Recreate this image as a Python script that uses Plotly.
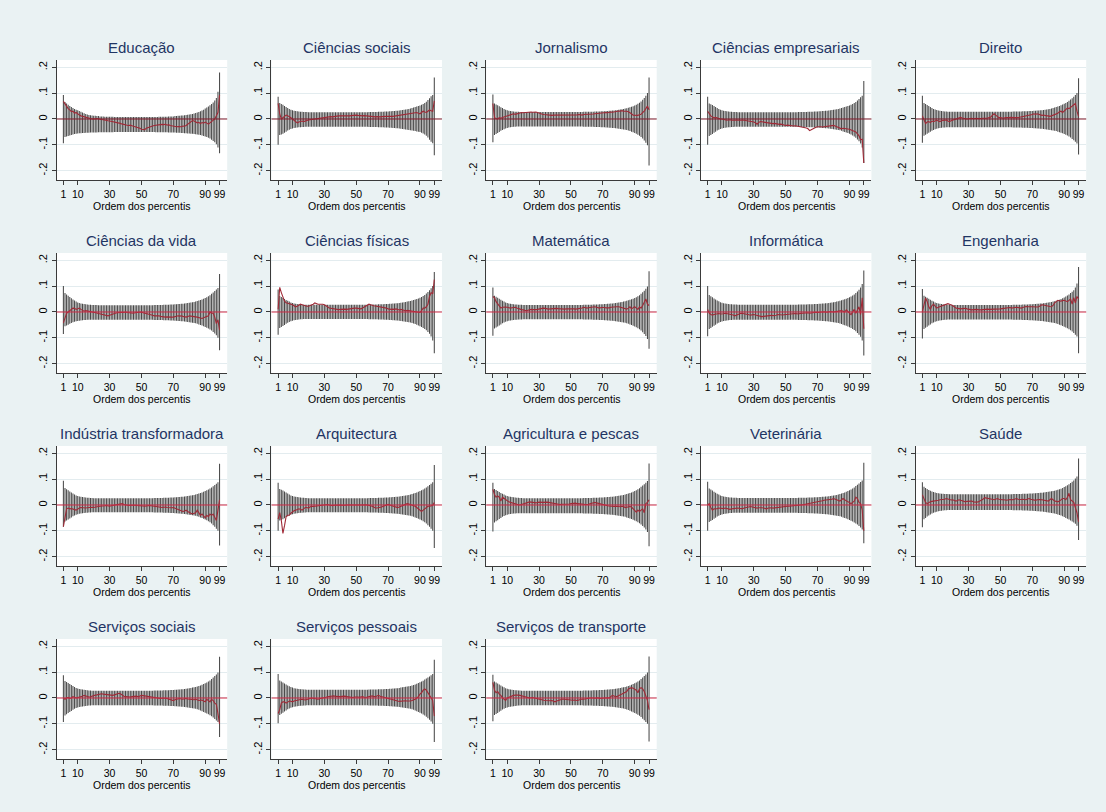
import plotly.graph_objects as go

# ---------------- data (values in thousandths) ----------------
percentis = list(range(1, 100))
x_ticks = [1, 10, 30, 50, 70, 90, 99]
x_tick_labels = ["1", "10", "30", "50", "70", "90", "99"]
y_ticks = [-0.2, -0.1, 0, 0.1, 0.2]
y_tick_labels = ["-.2", "-.1", "0", ".1", ".2"]
x_title = "Ordem dos percentis"

areas = ["Educação", "Ciências sociais", "Jornalismo", "Ciências empresariais", "Direito",
         "Ciências da vida", "Ciências físicas", "Matemática", "Informática", "Engenharia",
         "Indústria transformadora", "Arquitectura", "Agricultura e pescas", "Veterinária", "Saúde",
         "Serviços sociais", "Serviços pessoais", "Serviços de transporte"]

# Educação
hi_educacao = [93,66,60,55,50,46,42,39,36,34,
               31,28,25,22,19,17,15,14,13,12,
               12,11,11,10,10,10,9,9,9,9,
               9,9,8,8,8,8,8,8,8,8,
               8,8,8,8,8,8,8,8,8,8,
               8,8,8,8,8,8,8,8,8,8,
               9,9,9,9,9,9,10,10,10,10,
               11,11,12,12,13,13,14,15,16,17,
               18,19,21,23,25,27,30,33,36,40,
               44,48,53,58,64,71,81,105,180]
lo_educacao = [-94,-70,-68,-66,-64,-62,-60,-58,-57,-56,
               -55,-55,-54,-54,-53,-53,-53,-52,-52,-52,
               -52,-52,-51,-51,-51,-51,-51,-51,-51,-51,
               -51,-51,-50,-50,-50,-50,-50,-50,-50,-50,
               -50,-50,-50,-50,-50,-50,-50,-50,-50,-50,
               -50,-50,-50,-50,-50,-50,-50,-50,-51,-51,
               -51,-51,-51,-51,-51,-51,-52,-52,-52,-52,
               -52,-53,-53,-53,-54,-54,-55,-55,-56,-56,
               -57,-57,-58,-59,-60,-61,-62,-64,-66,-68,
               -70,-73,-76,-80,-85,-90,-98,-110,-133]
est_educacao = [68,58,50,40,35,28,30,22,25,18,
                15,12,10,8,5,6,3,2,0,1,
                0,2,0,-1,-2,-3,-5,-6,-7,-8,
                -9,-10,-12,-13,-15,-16,-18,-20,-21,-22,
                -24,-25,-24,-26,-28,-27,-30,-33,-36,-40,
                -42,-41,-36,-33,-30,-29,-27,-25,-24,-23,
                -22,-23,-21,-22,-20,-24,-22,-25,-27,-26,
                -28,-30,-29,-31,-30,-27,-28,-25,-20,-15,
                -10,-6,-8,-12,-15,-13,-18,-14,-16,-12,
                -18,-20,-15,-10,-5,0,12,25,92]

# Ciências sociais
hi_sociais = [86,62,58,55,50,46,42,39,36,34,
              32,31,30,29,28,28,27,27,27,26,
              26,26,26,26,26,26,26,26,26,26,
              26,26,26,26,26,26,26,26,26,26,
              26,26,26,26,26,26,26,26,26,26,
              26,26,26,26,26,26,26,27,27,27,
              27,27,27,28,28,28,28,29,29,29,
              30,30,31,31,32,32,33,34,35,36,
              37,38,39,40,42,44,46,48,50,52,
              55,58,62,67,73,80,88,93,160]
lo_sociais = [-100,-62,-60,-57,-53,-49,-45,-42,-39,-37,
              -35,-34,-33,-32,-32,-31,-31,-30,-30,-30,
              -30,-30,-30,-30,-30,-30,-30,-30,-30,-30,
              -30,-30,-30,-30,-30,-30,-30,-30,-30,-30,
              -30,-30,-30,-30,-30,-30,-30,-30,-30,-30,
              -30,-30,-30,-30,-30,-30,-30,-31,-31,-31,
              -31,-31,-31,-32,-32,-32,-32,-33,-33,-33,
              -34,-34,-35,-35,-36,-36,-37,-38,-39,-40,
              -41,-42,-43,-44,-45,-46,-47,-48,-49,-50,
              -53,-56,-60,-65,-72,-80,-88,-94,-140]
est_sociais = [60,20,0,5,10,15,12,10,5,0,
               -5,-10,-15,-12,-10,-8,-10,-7,-5,-4,
               -3,-2,-1,0,0,2,3,4,5,5,
               6,7,8,9,8,10,10,11,12,12,
               11,10,10,11,10,12,13,14,14,15,
               14,13,12,12,13,12,11,10,10,10,
               9,8,9,8,8,9,10,9,10,10,
               11,10,10,11,10,12,13,14,15,15,
               16,18,20,19,20,22,23,25,22,20,
               25,30,27,25,30,35,32,30,70]

# Jornalismo
hi_jornalismo = [95,60,56,53,49,45,42,39,36,34,
                 32,31,30,29,28,28,28,27,27,27,
                 27,27,27,27,27,27,27,27,27,27,
                 27,27,27,27,27,27,27,27,27,27,
                 27,27,27,27,27,27,27,27,27,27,
                 27,27,27,27,27,27,27,28,28,28,
                 28,28,28,28,29,29,29,29,30,30,
                 30,31,31,32,32,33,33,34,35,36,
                 37,38,39,40,41,43,45,47,49,52,
                 55,59,63,68,74,81,90,100,160]
lo_jornalismo = [-90,-62,-58,-54,-50,-46,-43,-40,-37,-35,
                 -33,-32,-31,-30,-30,-29,-29,-29,-29,-29,
                 -29,-29,-29,-29,-29,-29,-29,-29,-29,-29,
                 -29,-29,-29,-29,-29,-29,-29,-29,-29,-29,
                 -29,-29,-29,-29,-29,-29,-29,-29,-29,-29,
                 -29,-29,-29,-29,-29,-29,-29,-30,-30,-30,
                 -30,-30,-30,-30,-31,-31,-31,-31,-32,-32,
                 -32,-33,-33,-34,-34,-35,-35,-36,-37,-38,
                 -39,-40,-41,-42,-43,-45,-47,-49,-51,-54,
                 -57,-61,-65,-70,-76,-83,-92,-102,-180]
est_jornalismo = [60,5,2,0,5,3,6,8,10,10,
                  12,15,18,20,18,20,22,24,25,24,
                  25,26,27,28,27,26,28,27,25,22,
                  20,18,17,16,15,16,15,14,15,15,
                  14,15,16,15,14,15,16,15,15,14,
                  15,16,15,16,17,16,15,17,17,18,
                  18,17,18,19,20,21,22,21,22,23,
                  24,25,24,26,27,26,28,29,30,31,
                  30,32,30,31,30,28,25,20,15,15,
                  13,14,16,18,25,30,40,50,35]

# Ciências empresariais
hi_empresariais = [86,60,57,54,50,46,42,39,36,34,
                   32,31,30,29,28,28,27,27,27,26,
                   26,26,26,26,26,26,26,26,26,26,
                   26,26,26,26,26,26,26,26,26,26,
                   26,26,26,26,26,26,26,26,26,26,
                   26,26,26,26,26,26,26,27,27,27,
                   27,27,27,28,28,28,28,29,29,29,
                   30,30,31,31,32,32,33,34,35,36,
                   37,38,39,40,42,44,46,48,50,52,
                   55,58,62,66,71,77,84,90,147]
lo_empresariais = [-100,-66,-62,-58,-53,-49,-45,-42,-39,-37,
                   -35,-34,-33,-32,-32,-31,-31,-30,-30,-30,
                   -30,-30,-30,-30,-30,-30,-30,-30,-30,-30,
                   -30,-30,-30,-30,-30,-30,-30,-30,-30,-30,
                   -30,-30,-30,-30,-30,-30,-30,-30,-30,-30,
                   -30,-30,-30,-30,-30,-30,-30,-31,-31,-31,
                   -31,-31,-31,-32,-32,-32,-32,-33,-33,-33,
                   -34,-34,-35,-35,-36,-36,-37,-38,-39,-40,
                   -41,-42,-43,-44,-46,-48,-50,-52,-54,-57,
                   -60,-64,-68,-73,-79,-86,-95,-110,-170]
est_empresariais = [30,20,12,8,5,6,3,2,0,0,
                    -2,-3,-5,-4,-3,-5,-6,-5,-4,-5,
                    -6,-5,-4,-5,-6,-7,-8,-10,-10,-12,
                    -15,-20,-14,-10,-11,-12,-14,-15,-14,-15,
                    -16,-18,-17,-19,-20,-21,-20,-22,-23,-25,
                    -24,-25,-26,-25,-27,-26,-27,-28,-29,-30,
                    -31,-32,-35,-38,-45,-42,-38,-35,-32,-30,
                    -29,-30,-31,-30,-29,-30,-28,-27,-26,-25,
                    -27,-30,-32,-35,-38,-36,-38,-40,-39,-40,
                    -42,-44,-45,-50,-58,-65,-80,-78,-170]

# Direito
hi_direito = [90,62,58,54,50,46,42,39,37,35,
              33,32,31,30,29,29,28,28,28,28,
              28,28,28,28,28,28,28,28,28,28,
              28,28,28,28,28,28,28,28,28,28,
              28,28,28,28,28,28,28,28,28,28,
              28,28,28,28,28,28,28,29,29,29,
              29,29,29,30,30,30,30,31,31,31,
              32,32,33,33,34,34,35,36,37,38,
              39,40,42,44,46,48,50,53,56,59,
              62,66,70,75,80,86,93,100,157]
lo_direito = [-92,-65,-61,-57,-53,-49,-46,-43,-40,-38,
              -36,-35,-34,-33,-33,-32,-32,-32,-32,-32,
              -32,-32,-32,-32,-32,-32,-32,-32,-32,-32,
              -32,-32,-32,-32,-32,-32,-32,-32,-32,-32,
              -32,-32,-32,-32,-32,-32,-32,-32,-32,-32,
              -32,-32,-32,-32,-32,-32,-32,-33,-33,-33,
              -33,-33,-33,-34,-34,-34,-34,-35,-35,-35,
              -36,-36,-37,-37,-38,-38,-39,-40,-41,-42,
              -43,-44,-45,-46,-47,-49,-51,-53,-55,-58,
              -61,-64,-68,-72,-77,-82,-88,-95,-137]
est_direito = [12,0,-18,-12,-10,-14,-8,-10,-6,-5,
               -8,-10,-7,-5,-6,-4,-8,-10,-7,-5,
               -2,0,2,5,6,4,2,0,0,1,
               2,3,1,3,3,2,1,2,3,2,
               3,4,5,8,15,20,15,10,5,5,
               4,3,5,4,5,6,5,4,5,6,
               5,7,8,10,10,12,14,15,16,17,
               20,18,20,17,15,14,15,12,12,12,
               10,12,14,18,20,22,28,30,25,30,
               38,42,40,45,48,55,60,30,10]

# Ciências da vida
hi_vida = [100,73,68,63,58,53,48,44,40,37,
           35,33,32,31,30,29,28,28,27,27,
           27,27,26,26,26,26,26,26,26,26,
           26,26,26,26,26,26,26,26,26,26,
           26,26,26,26,26,26,26,26,26,26,
           26,26,26,26,26,26,26,27,27,27,
           27,27,27,28,28,28,28,29,29,29,
           30,30,31,31,32,32,33,34,35,36,
           37,38,39,40,42,44,46,48,51,54,
           57,61,65,70,75,81,87,93,147]
lo_vida = [-85,-55,-52,-49,-46,-43,-40,-38,-36,-35,
           -34,-33,-32,-31,-31,-30,-30,-30,-30,-30,
           -30,-30,-30,-30,-30,-30,-30,-30,-30,-30,
           -30,-30,-30,-30,-30,-30,-30,-30,-30,-30,
           -30,-30,-30,-30,-30,-30,-30,-30,-30,-30,
           -30,-30,-30,-30,-30,-30,-30,-31,-31,-31,
           -31,-31,-31,-32,-32,-32,-32,-33,-33,-33,
           -34,-34,-35,-35,-36,-36,-37,-38,-39,-40,
           -41,-42,-43,-44,-46,-48,-50,-52,-55,-58,
           -61,-64,-68,-72,-77,-83,-90,-100,-148]
est_vida = [-42,-20,-5,0,5,10,15,14,10,12,
            15,10,5,3,5,4,2,0,1,0,
            -2,-4,-6,-8,-10,-9,-12,-14,-15,-13,
            -10,-8,-5,-4,-3,-2,0,-1,-2,0,
            -2,-3,-5,-4,-5,-3,-2,0,-1,0,
            -3,-5,-8,-10,-10,-12,-13,-15,-15,-14,
            -15,-17,-18,-20,-20,-19,-20,-21,-20,-20,
            -18,-17,-15,-16,-15,-17,-19,-20,-18,-15,
            -16,-18,-20,-19,-20,-22,-24,-25,-22,-20,
            -18,-15,0,-5,-5,-20,-45,-30,-70]

# Ciências físicas
hi_fisicas = [87,62,58,54,50,46,43,40,37,35,
              33,32,31,30,29,29,28,28,28,28,
              28,28,28,28,28,28,28,28,28,28,
              28,28,28,28,28,28,28,28,28,28,
              28,28,28,28,28,28,28,28,28,28,
              28,28,28,28,28,28,28,29,29,29,
              29,29,29,30,30,30,30,31,31,31,
              32,32,33,33,34,34,35,36,37,38,
              39,40,41,42,44,46,48,50,52,55,
              58,62,66,71,77,84,92,100,155]
lo_fisicas = [-88,-62,-58,-54,-50,-46,-42,-39,-36,-34,
              -32,-31,-30,-29,-28,-28,-27,-27,-27,-27,
              -27,-27,-27,-27,-27,-27,-27,-27,-27,-27,
              -27,-27,-27,-27,-27,-27,-27,-27,-27,-27,
              -27,-27,-27,-27,-27,-27,-27,-27,-27,-27,
              -27,-27,-27,-27,-27,-27,-27,-28,-28,-28,
              -28,-28,-28,-29,-29,-29,-29,-30,-30,-30,
              -31,-31,-32,-32,-33,-33,-34,-35,-36,-37,
              -38,-39,-40,-41,-43,-45,-47,-49,-52,-55,
              -58,-62,-66,-71,-77,-84,-95,-110,-160]
est_fisicas = [10,95,75,60,42,36,33,30,30,28,
               25,20,22,26,30,28,25,24,22,22,
               24,26,30,35,32,30,30,31,30,28,
               25,20,15,14,12,10,11,10,9,10,
               11,12,11,10,10,12,13,15,15,15,
               14,13,12,15,18,22,26,30,28,25,
               24,23,22,22,20,20,18,16,15,12,
               10,10,11,10,12,10,8,10,8,5,
               5,6,5,4,5,3,2,0,0,-2,
               5,15,15,20,30,60,75,70,125]

# Matemática
hi_matematica = [95,63,59,55,51,47,43,40,37,35,
                 33,32,31,30,29,29,28,28,28,27,
                 27,27,27,27,27,27,27,27,27,27,
                 27,27,27,27,27,27,27,27,27,27,
                 27,27,27,27,27,27,27,27,27,27,
                 27,27,27,27,27,27,27,28,28,28,
                 28,28,28,29,29,29,29,30,30,30,
                 31,31,32,32,33,33,34,35,36,37,
                 38,39,40,41,43,45,47,49,51,54,
                 57,61,65,70,76,82,90,98,157]
lo_matematica = [-92,-64,-60,-56,-52,-48,-44,-41,-38,-36,
                 -34,-33,-32,-31,-30,-30,-29,-29,-29,-28,
                 -28,-28,-28,-28,-28,-28,-28,-28,-28,-28,
                 -28,-28,-28,-28,-28,-28,-28,-28,-28,-28,
                 -28,-28,-28,-28,-28,-28,-28,-28,-28,-28,
                 -28,-28,-28,-28,-28,-28,-28,-29,-29,-29,
                 -29,-29,-29,-30,-30,-30,-30,-31,-31,-31,
                 -32,-32,-33,-33,-34,-34,-35,-36,-37,-38,
                 -39,-40,-41,-42,-44,-46,-48,-50,-53,-56,
                 -59,-63,-67,-72,-78,-85,-93,-105,-142]
est_matematica = [60,55,40,30,20,15,18,20,19,18,
                  16,15,16,17,18,15,12,10,9,8,
                  6,5,7,9,10,9,8,9,10,12,
                  13,14,15,13,10,11,12,13,14,15,
                  14,13,12,13,12,11,12,13,12,12,
                  13,12,11,12,12,13,15,18,16,15,
                  16,17,18,19,20,18,16,15,17,18,
                  17,16,15,16,18,19,20,21,20,20,
                  18,15,12,10,11,15,20,12,15,20,
                  15,10,20,15,25,40,50,30,25]

# Informática
hi_informatica = [100,66,61,57,52,48,44,41,38,36,
                  34,33,32,31,30,30,29,29,29,28,
                  28,28,28,28,28,28,28,28,28,28,
                  28,28,28,28,28,28,28,28,28,28,
                  28,28,28,28,28,28,28,28,28,28,
                  28,28,28,28,28,28,28,29,29,29,
                  29,29,29,30,30,30,30,31,31,31,
                  32,32,33,33,34,34,35,36,37,38,
                  39,40,41,43,45,47,49,51,54,57,
                  60,64,68,73,79,86,95,108,160]
lo_informatica = [-94,-66,-62,-57,-53,-49,-45,-42,-39,-37,
                  -35,-34,-33,-32,-31,-31,-30,-30,-30,-30,
                  -30,-30,-30,-30,-30,-30,-30,-30,-30,-30,
                  -30,-30,-30,-30,-30,-30,-30,-30,-30,-30,
                  -30,-30,-30,-30,-30,-30,-30,-30,-30,-30,
                  -30,-30,-30,-30,-30,-30,-30,-31,-31,-31,
                  -31,-31,-31,-32,-32,-32,-32,-33,-33,-33,
                  -34,-34,-35,-35,-36,-36,-37,-38,-39,-40,
                  -41,-42,-43,-45,-47,-49,-51,-53,-56,-59,
                  -62,-66,-70,-75,-81,-88,-96,-110,-168]
est_informatica = [10,-5,-10,-12,-10,-8,-5,-6,-8,-8,
                   -7,-5,-6,-7,-8,-10,-12,-15,-12,-10,
                   -8,-5,-6,-8,-8,-10,-11,-12,-11,-10,
                   -12,-14,-15,-16,-18,-17,-16,-15,-13,-12,
                   -13,-14,-15,-13,-10,-11,-12,-12,-11,-10,
                   -9,-8,-8,-7,-5,-6,-7,-8,-6,-5,
                   -4,-3,-2,-3,-5,-4,-2,0,-1,-2,
                   -1,0,0,1,0,-1,1,2,1,0,
                   1,2,3,4,5,3,0,8,2,-5,
                   -10,0,10,-5,5,20,-10,55,-65]

# Engenharia
hi_engenharia = [89,63,59,55,51,47,43,40,37,35,
                 33,32,31,30,29,29,28,28,28,27,
                 27,27,27,27,27,27,27,27,27,27,
                 27,27,27,27,27,27,27,27,27,27,
                 27,27,27,27,27,27,27,27,27,27,
                 27,27,27,27,27,27,27,28,28,28,
                 28,28,28,29,29,29,29,30,30,30,
                 31,31,32,32,33,33,34,35,36,37,
                 38,39,40,41,43,45,47,50,53,56,
                 60,64,68,73,78,84,95,110,174]
lo_engenharia = [-103,-66,-61,-57,-52,-48,-44,-41,-38,-36,
                 -34,-33,-32,-31,-30,-30,-29,-29,-29,-29,
                 -29,-29,-29,-29,-29,-29,-29,-29,-29,-29,
                 -29,-29,-29,-29,-29,-29,-29,-29,-29,-29,
                 -29,-29,-29,-29,-29,-29,-29,-29,-29,-29,
                 -29,-29,-29,-29,-29,-29,-29,-30,-30,-30,
                 -30,-30,-30,-31,-31,-31,-31,-32,-32,-32,
                 -33,-33,-34,-34,-35,-35,-36,-37,-38,-39,
                 -40,-41,-42,-43,-45,-47,-49,-51,-54,-57,
                 -60,-63,-67,-71,-76,-81,-88,-95,-160]
est_engenharia = [0,35,54,40,20,10,25,30,22,15,
                  18,20,22,25,28,30,32,30,28,25,
                  20,15,14,12,12,13,15,14,12,10,
                  9,8,9,10,10,9,8,8,9,10,
                  10,11,10,10,12,11,10,11,12,12,
                  13,14,15,16,18,17,15,15,17,18,
                  17,16,15,17,20,21,20,19,20,20,
                  19,18,19,20,24,28,27,25,23,22,
                  21,20,25,35,40,45,43,42,44,45,
                  42,40,45,50,30,55,35,60,50]

# Indústria transformadora
hi_industria = [94,66,61,57,52,48,44,40,37,35,
                33,32,31,30,29,28,28,27,27,26,
                26,26,26,26,26,26,26,26,26,26,
                26,26,26,26,26,26,26,26,26,26,
                26,26,26,26,26,26,26,26,26,26,
                26,26,26,26,26,26,26,27,27,27,
                27,27,27,28,28,28,28,29,29,29,
                30,30,31,31,32,32,33,34,35,36,
                37,38,39,40,42,44,46,48,51,54,
                57,60,64,68,72,77,82,88,159]
lo_industria = [-84,-64,-60,-56,-52,-48,-44,-41,-38,-36,
                -34,-33,-32,-31,-30,-30,-29,-29,-28,-28,
                -28,-28,-28,-28,-28,-28,-28,-28,-28,-28,
                -28,-28,-28,-28,-28,-28,-28,-28,-28,-28,
                -28,-28,-28,-28,-28,-28,-28,-28,-28,-28,
                -28,-28,-28,-28,-28,-28,-28,-29,-29,-29,
                -29,-29,-29,-30,-30,-30,-30,-31,-31,-31,
                -32,-32,-33,-33,-34,-34,-35,-36,-37,-38,
                -39,-40,-41,-42,-44,-46,-48,-50,-53,-56,
                -59,-63,-67,-72,-78,-84,-92,-100,-157]
est_industria = [-84,-40,-15,-12,-15,-14,-15,-18,-20,-15,
                 -12,-10,-11,-12,-12,-11,-10,-10,-9,-10,
                 -8,-5,-6,-5,-5,-4,-3,-2,-3,-5,
                 -3,-2,0,1,2,3,4,5,2,0,
                 -1,-2,-1,0,0,-1,-2,-2,-3,-3,
                 -4,-5,-5,-3,-2,-3,-4,-5,-6,-8,
                 -9,-10,-10,-9,-8,-10,-11,-12,-11,-10,
                 -12,-15,-17,-20,-22,-25,-23,-20,-25,-30,
                 -32,-35,-32,-30,-20,-30,-40,-35,-42,-50,
                 -40,-45,-35,-40,-35,-50,-60,-20,20]

# Arquitectura
hi_arquitectura = [86,62,59,56,52,48,44,40,37,35,
                   33,32,31,30,29,28,28,27,27,26,
                   26,26,26,26,26,26,26,26,26,26,
                   26,26,26,26,26,26,26,26,26,26,
                   26,26,26,26,26,26,26,26,26,26,
                   26,26,26,26,26,26,26,27,27,27,
                   27,27,27,28,28,28,28,29,29,29,
                   30,30,31,31,32,32,33,34,35,36,
                   37,38,39,40,42,44,46,48,51,54,
                   57,60,64,68,72,77,82,88,155]
lo_arquitectura = [-100,-60,-58,-55,-51,-47,-44,-41,-38,-36,
                   -34,-33,-32,-31,-30,-30,-29,-29,-28,-28,
                   -28,-28,-28,-28,-28,-28,-28,-28,-28,-28,
                   -28,-28,-28,-28,-28,-28,-28,-28,-28,-28,
                   -28,-28,-28,-28,-28,-28,-28,-28,-28,-28,
                   -28,-28,-28,-28,-28,-28,-28,-29,-29,-29,
                   -29,-29,-29,-30,-30,-30,-30,-31,-31,-31,
                   -32,-32,-33,-33,-34,-34,-35,-36,-37,-38,
                   -39,-40,-41,-42,-44,-46,-48,-50,-53,-56,
                   -59,-63,-67,-72,-78,-84,-92,-100,-166]
est_arquitectura = [-55,-30,-60,-110,-80,-45,-40,-40,-32,-25,
                    -22,-20,-18,-15,-17,-20,-15,-10,-10,-12,
                    -8,-5,-6,-5,-4,-3,-2,-2,-1,0,
                    1,2,0,-2,-3,-1,0,1,0,0,
                    -1,-2,-1,0,1,0,0,-1,0,0,
                    0,1,0,0,2,1,0,-1,-3,-5,
                    -8,-12,-12,-11,-10,-8,-5,-2,0,2,
                    0,-2,-3,-5,-8,-10,-8,-5,-3,0,
                    2,5,4,2,0,-3,-5,-10,-15,-20,
                    -25,-20,-15,-8,-5,-5,-3,-2,10]

# Agricultura e pescas
hi_agricultura = [86,62,58,54,50,46,43,40,37,35,
                  33,32,31,30,29,28,28,27,27,26,
                  26,26,26,26,26,26,26,26,26,26,
                  26,26,26,26,26,26,26,26,26,26,
                  26,26,26,26,26,26,26,26,26,26,
                  26,26,26,26,26,26,26,27,27,27,
                  27,27,27,28,28,28,28,29,29,29,
                  30,30,31,31,32,32,33,34,35,36,
                  37,38,39,40,42,44,46,48,51,54,
                  57,61,65,70,75,80,86,93,160]
lo_agricultura = [-103,-68,-63,-59,-54,-50,-46,-43,-40,-38,
                  -36,-35,-34,-33,-33,-32,-32,-32,-32,-32,
                  -32,-32,-32,-32,-32,-32,-32,-32,-32,-32,
                  -32,-32,-32,-32,-32,-32,-32,-32,-32,-32,
                  -32,-32,-32,-32,-32,-32,-32,-32,-32,-32,
                  -32,-32,-32,-32,-32,-32,-32,-33,-33,-33,
                  -33,-33,-33,-34,-34,-34,-34,-35,-35,-35,
                  -36,-36,-37,-37,-38,-38,-39,-40,-41,-42,
                  -43,-44,-45,-46,-48,-50,-52,-54,-57,-60,
                  -63,-67,-71,-76,-81,-87,-95,-105,-160]
est_agricultura = [60,40,30,35,30,15,30,25,20,15,
                   12,10,8,5,3,0,1,0,2,5,
                   8,10,11,12,11,10,9,8,10,12,
                   11,10,11,12,11,10,9,8,6,5,
                   3,2,2,3,3,2,2,2,4,5,
                   6,8,7,5,5,4,3,3,2,2,
                   3,5,7,8,10,8,6,5,2,0,
                   -1,-2,-3,-4,-5,-5,-6,-5,-6,-8,
                   -7,-5,-6,-10,-8,-5,-6,-8,-15,-25,
                   -28,-20,-25,-20,-15,-30,5,10,20]

# Veterinária
hi_veterinaria = [90,64,60,56,51,47,43,40,37,35,
                  33,32,31,30,29,29,28,28,28,27,
                  27,27,27,27,27,27,27,27,27,27,
                  27,27,27,27,27,27,27,27,27,27,
                  27,27,27,27,27,27,27,27,27,27,
                  27,27,27,27,27,27,27,28,28,28,
                  28,28,28,29,29,29,29,30,30,30,
                  31,31,32,32,33,33,34,35,36,37,
                  38,39,40,42,44,46,48,51,54,57,
                  60,64,68,73,78,83,89,95,163]
lo_veterinaria = [-100,-66,-62,-58,-53,-49,-45,-42,-39,-37,
                  -35,-34,-33,-32,-31,-31,-30,-30,-30,-30,
                  -30,-30,-30,-30,-30,-30,-30,-30,-30,-30,
                  -30,-30,-30,-30,-30,-30,-30,-30,-30,-30,
                  -30,-30,-30,-30,-30,-30,-30,-30,-30,-30,
                  -30,-30,-30,-30,-30,-30,-30,-31,-31,-31,
                  -31,-31,-31,-32,-32,-32,-32,-33,-33,-33,
                  -34,-34,-35,-35,-36,-36,-37,-38,-39,-40,
                  -41,-42,-43,-44,-46,-48,-50,-52,-55,-58,
                  -61,-64,-68,-72,-76,-81,-87,-95,-148]
est_veterinaria = [0,5,-10,-20,-15,-15,-14,-12,-13,-15,
                   -14,-12,-14,-18,-17,-15,-14,-12,-13,-12,
                   -13,-15,-14,-12,-10,-8,-5,-6,-8,-10,
                   -11,-12,-11,-10,-11,-12,-14,-15,-12,-10,
                   -11,-12,-11,-10,-9,-10,-9,-8,-6,-5,
                   -5,-5,-4,-4,-3,-2,-1,0,0,0,
                   1,2,3,5,6,8,9,10,11,12,
                   13,15,16,18,19,20,21,20,22,25,
                   22,20,18,15,20,25,20,15,12,10,
                   5,10,15,30,25,10,5,-20,-100]

# Saúde
hi_saude = [88,70,66,62,58,55,52,50,48,46,
            45,44,43,43,42,42,42,41,41,41,
            41,41,41,41,41,41,41,41,41,41,
            41,41,41,41,41,41,41,41,41,41,
            41,41,41,41,41,41,41,41,41,41,
            41,41,41,41,41,41,41,42,42,42,
            42,42,42,43,43,43,43,44,44,44,
            45,45,46,46,47,47,48,49,50,51,
            52,53,54,55,57,59,61,63,66,69,
            72,76,80,85,90,95,102,110,180]
lo_saude = [-86,-55,-50,-45,-41,-37,-33,-30,-28,-26,
            -24,-23,-22,-21,-20,-20,-19,-19,-19,-19,
            -19,-19,-19,-19,-19,-19,-19,-19,-19,-19,
            -19,-19,-19,-19,-19,-19,-19,-19,-19,-19,
            -19,-19,-19,-19,-19,-19,-19,-19,-19,-19,
            -19,-19,-19,-19,-19,-19,-19,-20,-20,-20,
            -20,-20,-20,-21,-21,-21,-21,-22,-22,-22,
            -23,-23,-24,-24,-25,-25,-26,-27,-28,-29,
            -30,-31,-32,-33,-35,-37,-39,-41,-44,-47,
            -50,-53,-56,-60,-64,-68,-73,-80,-135]
est_saude = [39,20,10,5,10,12,14,15,14,15,
             18,20,21,20,22,25,22,20,19,20,
             18,15,17,20,18,15,13,12,14,15,
             15,15,12,10,11,12,15,18,22,28,
             27,25,24,22,21,20,22,25,22,20,
             20,20,19,18,20,22,21,20,22,25,
             22,20,21,22,21,20,23,25,22,20,
             19,18,20,22,21,20,19,18,16,15,
             20,25,20,15,14,12,15,20,25,25,
             20,30,45,20,15,10,-10,-30,-65]

# Serviços sociais
hi_serv_sociais = [88,66,62,58,54,50,46,42,39,37,
                   35,34,33,32,31,30,29,29,28,28,
                   28,28,28,28,28,28,28,28,28,28,
                   28,28,28,28,28,28,28,28,28,28,
                   28,28,28,28,28,28,28,28,28,28,
                   28,28,28,28,28,28,28,29,29,29,
                   29,29,29,30,30,30,30,31,31,31,
                   32,32,33,33,34,34,35,36,37,38,
                   39,40,41,42,44,46,48,51,54,57,
                   60,64,68,73,79,85,91,98,159]
lo_serv_sociais = [-93,-68,-63,-58,-54,-50,-46,-42,-39,-37,
                   -35,-34,-33,-32,-31,-30,-29,-29,-28,-28,
                   -28,-28,-28,-28,-28,-28,-28,-28,-28,-28,
                   -28,-28,-28,-28,-28,-28,-28,-28,-28,-28,
                   -28,-28,-28,-28,-28,-28,-28,-28,-28,-28,
                   -28,-28,-28,-28,-28,-28,-28,-29,-29,-29,
                   -29,-29,-29,-30,-30,-30,-30,-31,-31,-31,
                   -32,-32,-33,-33,-34,-34,-35,-36,-37,-38,
                   -39,-40,-41,-42,-44,-46,-48,-51,-54,-57,
                   -60,-63,-67,-71,-76,-81,-87,-93,-151]
est_serv_sociais = [0,-5,0,2,-2,0,5,3,0,2,
                    3,5,7,10,8,5,4,5,8,10,
                    11,12,14,15,16,15,14,12,12,12,
                    11,10,12,15,17,18,15,10,7,5,
                    4,3,4,5,6,8,7,5,8,10,
                    9,8,7,5,6,5,3,2,1,0,
                    -1,-2,-1,0,-1,-2,-4,-5,-8,-10,
                    -7,-5,-3,-2,-4,-5,-3,-2,-4,-5,
                    -6,-8,-7,-5,-8,-10,-9,-8,-12,-15,
                    -5,-10,-15,-5,-10,-20,-25,-60,-100]

# Serviços pessoais
hi_serv_pessoais = [93,68,64,60,56,52,48,45,42,40,
                    38,37,36,35,34,34,33,33,32,32,
                    32,32,32,32,32,32,32,32,32,32,
                    32,32,32,32,32,32,32,32,32,32,
                    32,32,32,32,32,32,32,32,32,32,
                    32,32,32,32,32,32,32,33,33,33,
                    33,33,33,34,34,34,34,35,35,35,
                    36,36,37,37,38,38,39,40,41,42,
                    43,44,45,46,48,50,52,55,58,61,
                    64,67,71,75,79,83,88,93,148]
lo_serv_pessoais = [-98,-66,-61,-57,-52,-48,-44,-41,-38,-36,
                    -34,-33,-32,-31,-30,-30,-29,-29,-28,-28,
                    -28,-28,-28,-28,-28,-28,-28,-28,-28,-28,
                    -28,-28,-28,-28,-28,-28,-28,-28,-28,-28,
                    -28,-28,-28,-28,-28,-28,-28,-28,-28,-28,
                    -28,-28,-28,-28,-28,-28,-28,-29,-29,-29,
                    -29,-29,-29,-30,-30,-30,-30,-31,-31,-31,
                    -32,-32,-33,-33,-34,-34,-35,-36,-37,-38,
                    -39,-40,-41,-42,-44,-46,-48,-51,-54,-57,
                    -60,-64,-68,-73,-78,-84,-91,-100,-170]
est_serv_pessoais = [-60,-45,-20,-15,-15,-20,-16,-12,-13,-15,
                     -12,-10,-8,-5,-6,-5,-7,-8,-6,-5,
                     -2,0,-1,-2,-4,-5,-3,-2,0,2,
                     3,5,6,5,7,8,6,5,4,5,
                     6,8,7,5,4,5,3,2,4,5,
                     4,3,4,5,3,2,4,5,6,8,
                     6,5,8,10,7,5,3,2,1,0,
                     -2,-5,-7,-10,-11,-12,-13,-12,-11,-10,
                     -11,-12,-13,-12,-10,-8,-5,0,5,15,
                     20,30,35,30,20,5,0,-10,-70]

# Serviços de transporte
hi_transporte = [90,64,60,56,52,48,44,41,38,36,
                 34,33,32,31,30,30,29,29,28,28,
                 28,28,28,28,28,28,28,28,28,28,
                 28,28,28,28,28,28,28,28,28,28,
                 28,28,28,28,28,28,28,28,28,28,
                 28,28,28,28,28,28,28,29,29,29,
                 29,29,29,30,30,30,30,31,31,31,
                 32,32,33,33,34,34,35,36,37,38,
                 39,40,41,42,44,46,48,51,54,57,
                 60,64,68,73,79,85,91,98,160]
lo_transporte = [-90,-66,-62,-58,-53,-49,-45,-42,-39,-37,
                 -35,-34,-33,-32,-31,-30,-29,-29,-28,-28,
                 -28,-28,-28,-28,-28,-28,-28,-28,-28,-28,
                 -28,-28,-28,-28,-28,-28,-28,-28,-28,-28,
                 -28,-28,-28,-28,-28,-28,-28,-28,-28,-28,
                 -28,-28,-28,-28,-28,-28,-28,-29,-29,-29,
                 -29,-29,-29,-30,-30,-30,-30,-31,-31,-31,
                 -32,-32,-33,-33,-34,-34,-35,-36,-37,-38,
                 -39,-40,-41,-43,-45,-47,-49,-52,-55,-58,
                 -61,-65,-69,-74,-80,-86,-93,-100,-168]
est_transporte = [60,30,20,25,15,10,0,-5,-10,0,
                  3,5,8,10,11,12,11,10,8,5,
                  3,2,1,0,1,2,0,-2,-4,-5,
                  -6,-8,-9,-10,-11,-12,-11,-10,-12,-15,
                  -12,-10,-8,-5,-4,-5,-6,-8,-9,-10,
                  -9,-8,-9,-10,-8,-5,-4,-5,-3,-2,
                  -1,0,1,0,-1,0,1,-2,-1,0,
                  1,2,1,0,5,10,8,5,6,8,
                  12,15,18,20,25,35,38,40,38,35,
                  30,20,35,40,35,25,10,-10,-45]

panel_data = [
    (hi_educacao, lo_educacao, est_educacao),
    (hi_sociais, lo_sociais, est_sociais),
    (hi_jornalismo, lo_jornalismo, est_jornalismo),
    (hi_empresariais, lo_empresariais, est_empresariais),
    (hi_direito, lo_direito, est_direito),
    (hi_vida, lo_vida, est_vida),
    (hi_fisicas, lo_fisicas, est_fisicas),
    (hi_matematica, lo_matematica, est_matematica),
    (hi_informatica, lo_informatica, est_informatica),
    (hi_engenharia, lo_engenharia, est_engenharia),
    (hi_industria, lo_industria, est_industria),
    (hi_arquitectura, lo_arquitectura, est_arquitectura),
    (hi_agricultura, lo_agricultura, est_agricultura),
    (hi_veterinaria, lo_veterinaria, est_veterinaria),
    (hi_saude, lo_saude, est_saude),
    (hi_serv_sociais, lo_serv_sociais, est_serv_sociais),
    (hi_serv_pessoais, lo_serv_pessoais, est_serv_pessoais),
    (hi_transporte, lo_transporte, est_transporte),
]

# ---------------- layout ----------------
W, H = 1106, 812
COL_LEFT0, COL_STEP, PW = 56.7, 214.75, 170.5
ROW_TOP0, ROW_STEP, PH = 60.0, 193.0, 120.0
X_RANGE = [-3.2, 103.8]
Y_RANGE = [-0.236, 0.228]

FONT = "Liberation Sans, Arial, Helvetica, sans-serif"
BG = "#EAF2F3"
AXIS_COL = "#3a3a3a"
BAR_COL = "#4a4a4a"
EST_COL = "#a02a37"

fig = go.Figure()
layout_axes = {}
annotations = []
shapes = []

for i, (name, (hi, lo, est)) in enumerate(zip(areas, panel_data)):
    r, c = divmod(i, 5)
    s = "" if i == 0 else str(i + 1)
    left = COL_LEFT0 + c * COL_STEP
    top = ROW_TOP0 + r * ROW_STEP
    xd = [left / W, (left + PW) / W]
    yd = [1 - (top + PH) / H, 1 - top / H]

    n = len(hi)
    xs = percentis[:n]
    lo_v = [v / 1000 for v in lo[:n]]
    span = [(h - l) / 1000 for h, l in zip(hi, lo)]
    # confidence spikes: vertical error bars from lo up to hi, no caps
    fig.add_trace(go.Scatter(
        x=xs, y=lo_v, mode="markers",
        marker=dict(size=1, opacity=0),
        error_y=dict(type="data", symmetric=False, array=span,
                     arrayminus=[0] * n, width=0, thickness=1.05,
                     color=BAR_COL),
        xaxis="x" + s, yaxis="y" + s, showlegend=False, hoverinfo="skip"))
    fig.add_trace(go.Scatter(x=percentis[:len(est)], y=[v / 1000 for v in est],
                             mode="lines", line=dict(color=EST_COL, width=1.1),
                             xaxis="x" + s, yaxis="y" + s, showlegend=False,
                             hoverinfo="skip"))

    layout_axes["xaxis" + s] = dict(
        domain=xd, anchor="y" + s, range=X_RANGE, tickmode="array",
        tickvals=x_ticks, ticktext=x_tick_labels, ticks="outside", ticklen=4,
        tickcolor=AXIS_COL, showline=True, linecolor=AXIS_COL, linewidth=1,
        showgrid=False, zeroline=False, tickfont=dict(size=10.5, color="black"),
        fixedrange=True)
    layout_axes["yaxis" + s] = dict(
        domain=yd, anchor="x" + s, range=Y_RANGE, tickmode="array",
        tickvals=y_ticks, ticktext=y_tick_labels, tickangle=-90, ticks="outside",
        ticklen=4, tickcolor=AXIS_COL, showline=True, linecolor=AXIS_COL,
        linewidth=1, showgrid=True, gridcolor="#E3ECEF", gridwidth=1,
        zeroline=False, tickfont=dict(size=11, color="black"), fixedrange=True)

    zero_col = "#861d2c" if r == 0 else "#d22a46"
    shapes.append(dict(type="line", xref="x" + s + " domain", x0=0, x1=1,
                       yref="y" + s, y0=0, y1=0, layer="above",
                       line=dict(color=zero_col, width=1.1)))

    cx = (left + PW / 2) / W
    annotations.append(dict(text=name, x=cx, y=1 - (top - 2) / H,
                            xref="paper", yref="paper", xanchor="center",
                            yanchor="bottom", showarrow=False,
                            font=dict(size=15, color="#1f3564", family=FONT)))
    annotations.append(dict(text=x_title, x=cx, y=1 - (top + PH + 18) / H,
                            xref="paper", yref="paper", xanchor="center",
                            yanchor="top", showarrow=False,
                            font=dict(size=10.5, color="black", family=FONT)))

fig.update_layout(
    width=W, height=H, autosize=False,
    margin=dict(l=0, r=0, t=0, b=0, pad=0),
    paper_bgcolor=BG, plot_bgcolor="white",
    font=dict(family=FONT, size=11, color="black"),
    showlegend=False,
    annotations=annotations, shapes=shapes,
    **layout_axes,
)

fig.write_html("out.html")
